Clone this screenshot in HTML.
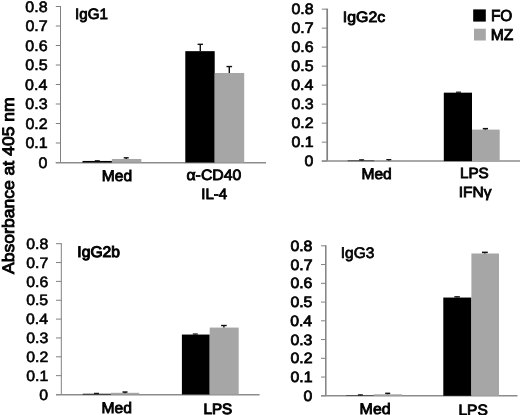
<!DOCTYPE html>
<html><head><meta charset="utf-8"><title>Figure</title>
<style>html,body{margin:0;padding:0;background:#fff;overflow:hidden}svg{display:block}text{font-family:"Liberation Sans",sans-serif;text-rendering:geometricPrecision;fill:#000;stroke:#000;stroke-width:0.85px}</style>
</head><body>
<svg width="520" height="415" viewBox="0 0 520 415">
<rect width="520" height="415" fill="#fff"/>
<text transform="translate(13.80,273.98) rotate(-90) scale(1.058,1)" font-size="16.6" style="stroke-width:0.9px">Absorbance at 405 nm</text>
<g>
<line x1="55.8" y1="162.50" x2="60.5" y2="162.50" stroke="#808080" stroke-width="1"/>
<text transform="translate(38.61,167.73) scale(1.055,1)" font-size="15.2" style="stroke-width:0.6px">0</text>
<line x1="55.8" y1="143.00" x2="60.5" y2="143.00" stroke="#808080" stroke-width="1"/>
<text transform="translate(25.39,148.23) scale(1.055,1)" font-size="15.2" style="stroke-width:0.6px">0.1</text>
<line x1="55.8" y1="123.50" x2="60.5" y2="123.50" stroke="#808080" stroke-width="1"/>
<text transform="translate(25.41,128.73) scale(1.055,1)" font-size="15.2" style="stroke-width:0.6px">0.2</text>
<line x1="55.8" y1="104.00" x2="60.5" y2="104.00" stroke="#808080" stroke-width="1"/>
<text transform="translate(25.31,109.23) scale(1.055,1)" font-size="15.2" style="stroke-width:0.6px">0.3</text>
<line x1="55.8" y1="84.50" x2="60.5" y2="84.50" stroke="#808080" stroke-width="1"/>
<text transform="translate(25.08,89.73) scale(1.055,1)" font-size="15.2" style="stroke-width:0.6px">0.4</text>
<line x1="55.8" y1="65.00" x2="60.5" y2="65.00" stroke="#808080" stroke-width="1"/>
<text transform="translate(25.28,70.23) scale(1.055,1)" font-size="15.2" style="stroke-width:0.6px">0.5</text>
<line x1="55.8" y1="45.50" x2="60.5" y2="45.50" stroke="#808080" stroke-width="1"/>
<text transform="translate(25.31,50.73) scale(1.055,1)" font-size="15.2" style="stroke-width:0.6px">0.6</text>
<line x1="55.8" y1="26.00" x2="60.5" y2="26.00" stroke="#808080" stroke-width="1"/>
<text transform="translate(25.41,31.23) scale(1.055,1)" font-size="15.2" style="stroke-width:0.6px">0.7</text>
<line x1="55.8" y1="6.50" x2="60.5" y2="6.50" stroke="#808080" stroke-width="1"/>
<text transform="translate(25.30,11.73) scale(1.055,1)" font-size="15.2" style="stroke-width:0.6px">0.8</text>
<line x1="60.5" y1="6.00" x2="60.5" y2="162.80" stroke="#808080" stroke-width="1.0"/>
<line x1="55.8" y1="162.80" x2="266" y2="162.80" stroke="#8c8c8c" stroke-width="1.6"/>
<rect x="82.5" y="160.94" width="29.40" height="1.56" fill="#000"/>
<rect x="111.9" y="158.99" width="29.40" height="3.51" fill="#a6a6a6"/>
<rect x="185.3" y="51.16" width="29.40" height="111.34" fill="#000"/>
<rect x="214.7" y="73.00" width="29.50" height="89.50" fill="#a6a6a6"/>
<line x1="94.8" y1="160.75" x2="99.8" y2="160.75" stroke="#111" stroke-width="1.2"/>
<line x1="126.2" y1="157.82" x2="126.2" y2="158.99" stroke="#111" stroke-width="1.4"/>
<line x1="123.7" y1="157.82" x2="128.7" y2="157.82" stroke="#111" stroke-width="1.4"/>
<line x1="200.3" y1="44.33" x2="200.3" y2="51.16" stroke="#111" stroke-width="1.4"/>
<line x1="197.60000000000002" y1="44.33" x2="203.0" y2="44.33" stroke="#111" stroke-width="1.4"/>
<line x1="229.3" y1="66.56" x2="229.3" y2="73.00" stroke="#111" stroke-width="1.4"/>
<line x1="226.5" y1="66.56" x2="232.10000000000002" y2="66.56" stroke="#111" stroke-width="1.4"/>
</g>
<text transform="translate(75.03,18.90) scale(1.008,1)" font-size="15">IgG1</text>
<text transform="translate(101.85,181.00) scale(1.016,1)" font-size="15.3">Med</text>
<text transform="translate(186.46,180.30) scale(1.056,1)" font-size="15.0">α-CD40</text>
<text transform="translate(201.24,198.70) scale(1.001,1)" font-size="15.0">IL-4</text>
<g>
<line x1="321.8" y1="161.15" x2="327.2" y2="161.15" stroke="#808080" stroke-width="1"/>
<text transform="translate(304.61,166.34) scale(1.055,1)" font-size="15.1" style="stroke-width:0.7px">0</text>
<line x1="321.8" y1="142.15" x2="327.2" y2="142.15" stroke="#808080" stroke-width="1"/>
<text transform="translate(291.48,147.34) scale(1.055,1)" font-size="15.1" style="stroke-width:0.7px">0.1</text>
<line x1="321.8" y1="123.15" x2="327.2" y2="123.15" stroke="#808080" stroke-width="1"/>
<text transform="translate(291.51,128.34) scale(1.055,1)" font-size="15.1" style="stroke-width:0.7px">0.2</text>
<line x1="321.8" y1="104.15" x2="327.2" y2="104.15" stroke="#808080" stroke-width="1"/>
<text transform="translate(291.40,109.34) scale(1.055,1)" font-size="15.1" style="stroke-width:0.7px">0.3</text>
<line x1="321.8" y1="85.15" x2="327.2" y2="85.15" stroke="#808080" stroke-width="1"/>
<text transform="translate(291.17,90.34) scale(1.055,1)" font-size="15.1" style="stroke-width:0.7px">0.4</text>
<line x1="321.8" y1="66.15" x2="327.2" y2="66.15" stroke="#808080" stroke-width="1"/>
<text transform="translate(291.37,71.34) scale(1.055,1)" font-size="15.1" style="stroke-width:0.7px">0.5</text>
<line x1="321.8" y1="47.15" x2="327.2" y2="47.15" stroke="#808080" stroke-width="1"/>
<text transform="translate(291.40,52.34) scale(1.055,1)" font-size="15.1" style="stroke-width:0.7px">0.6</text>
<line x1="321.8" y1="28.15" x2="327.2" y2="28.15" stroke="#808080" stroke-width="1"/>
<text transform="translate(291.51,33.34) scale(1.055,1)" font-size="15.1" style="stroke-width:0.7px">0.7</text>
<line x1="321.8" y1="9.15" x2="327.2" y2="9.15" stroke="#808080" stroke-width="1"/>
<text transform="translate(291.40,14.34) scale(1.055,1)" font-size="15.1" style="stroke-width:0.7px">0.8</text>
<line x1="327.2" y1="8.65" x2="327.2" y2="160.95" stroke="#808080" stroke-width="1.7"/>
<line x1="321.8" y1="160.95" x2="520" y2="160.95" stroke="#8c8c8c" stroke-width="1.35"/>
<rect x="347.7" y="160.58" width="26.60" height="0.57" fill="#000"/>
<rect x="374.3" y="160.58" width="27.70" height="0.57" fill="#a6a6a6"/>
<rect x="443.8" y="92.66" width="28.20" height="68.50" fill="#000"/>
<rect x="472" y="129.61" width="27.70" height="31.54" fill="#a6a6a6"/>
<line x1="361.6" y1="159.82" x2="361.6" y2="160.58" stroke="#111" stroke-width="1.4"/>
<line x1="359.1" y1="159.82" x2="364.1" y2="159.82" stroke="#111" stroke-width="1.2"/>
<line x1="388.8" y1="159.63" x2="388.8" y2="160.58" stroke="#111" stroke-width="1.4"/>
<line x1="386.3" y1="159.63" x2="391.3" y2="159.63" stroke="#111" stroke-width="1.2"/>
<line x1="458.5" y1="92.18" x2="458.5" y2="92.66" stroke="#111" stroke-width="1.4"/>
<line x1="456.0" y1="92.18" x2="461.0" y2="92.18" stroke="#111" stroke-width="1.2"/>
<line x1="485.4" y1="128.66" x2="485.4" y2="129.61" stroke="#111" stroke-width="1.4"/>
<line x1="482.79999999999995" y1="128.66" x2="488.0" y2="128.66" stroke="#111" stroke-width="1.5"/>
</g>
<text transform="translate(342.86,22.00) scale(1.060,1)" font-size="15">IgG2c</text>
<text transform="translate(361.45,178.50) scale(1.026,1)" font-size="15.2">Med</text>
<text transform="translate(459.98,178.00) scale(1.029,1)" font-size="14.8">LPS</text>
<text transform="translate(458.79,197.10) scale(1.048,1)" font-size="14.8">IFNγ</text>
<g>
<line x1="56" y1="394.50" x2="61.3" y2="394.50" stroke="#808080" stroke-width="1"/>
<text transform="translate(39.32,399.66) scale(1.055,1)" font-size="15" style="stroke-width:0.6px">0</text>
<line x1="56" y1="375.65" x2="61.3" y2="375.65" stroke="#808080" stroke-width="1"/>
<text transform="translate(26.27,380.81) scale(1.055,1)" font-size="15" style="stroke-width:0.6px">0.1</text>
<line x1="56" y1="356.80" x2="61.3" y2="356.80" stroke="#808080" stroke-width="1"/>
<text transform="translate(26.30,361.96) scale(1.055,1)" font-size="15" style="stroke-width:0.6px">0.2</text>
<line x1="56" y1="337.95" x2="61.3" y2="337.95" stroke="#808080" stroke-width="1"/>
<text transform="translate(26.20,343.11) scale(1.055,1)" font-size="15" style="stroke-width:0.6px">0.3</text>
<line x1="56" y1="319.10" x2="61.3" y2="319.10" stroke="#808080" stroke-width="1"/>
<text transform="translate(25.96,324.26) scale(1.055,1)" font-size="15" style="stroke-width:0.6px">0.4</text>
<line x1="56" y1="300.25" x2="61.3" y2="300.25" stroke="#808080" stroke-width="1"/>
<text transform="translate(26.17,305.41) scale(1.055,1)" font-size="15" style="stroke-width:0.6px">0.5</text>
<line x1="56" y1="281.40" x2="61.3" y2="281.40" stroke="#808080" stroke-width="1"/>
<text transform="translate(26.20,286.56) scale(1.055,1)" font-size="15" style="stroke-width:0.6px">0.6</text>
<line x1="56" y1="262.55" x2="61.3" y2="262.55" stroke="#808080" stroke-width="1"/>
<text transform="translate(26.30,267.71) scale(1.055,1)" font-size="15" style="stroke-width:0.6px">0.7</text>
<line x1="56" y1="243.70" x2="61.3" y2="243.70" stroke="#808080" stroke-width="1"/>
<text transform="translate(26.19,248.86) scale(1.055,1)" font-size="15" style="stroke-width:0.6px">0.8</text>
<line x1="61.3" y1="243.20" x2="61.3" y2="394.80" stroke="#808080" stroke-width="1.0"/>
<line x1="56" y1="394.80" x2="259.6" y2="394.80" stroke="#8c8c8c" stroke-width="1.6"/>
<rect x="82.7" y="393.75" width="28.30" height="0.75" fill="#000"/>
<rect x="111" y="392.80" width="28.20" height="1.70" fill="#a6a6a6"/>
<rect x="181.9" y="334.56" width="27.80" height="59.94" fill="#000"/>
<rect x="209.7" y="327.58" width="29.00" height="66.92" fill="#a6a6a6"/>
<line x1="96.5" y1="393.37" x2="96.5" y2="393.75" stroke="#111" stroke-width="1.4"/>
<line x1="94.0" y1="393.37" x2="99.0" y2="393.37" stroke="#111" stroke-width="1.2"/>
<line x1="125" y1="392.05" x2="125" y2="393.18" stroke="#111" stroke-width="1.4"/>
<line x1="122.5" y1="392.05" x2="127.5" y2="392.05" stroke="#111" stroke-width="1.5"/>
<line x1="195.3" y1="333.99" x2="195.3" y2="334.56" stroke="#111" stroke-width="1.4"/>
<line x1="192.8" y1="333.99" x2="197.8" y2="333.99" stroke="#111" stroke-width="1.2"/>
<line x1="223.9" y1="325.51" x2="223.9" y2="327.58" stroke="#111" stroke-width="1.4"/>
<line x1="221.1" y1="325.51" x2="226.70000000000002" y2="325.51" stroke="#111" stroke-width="1.4"/>
</g>
<text transform="translate(77.36,256.80) scale(1.022,1)" font-size="15.3" style="stroke-width:1.0px">IgG2b</text>
<text transform="translate(101.44,413.40) scale(1.030,1)" font-size="15.2">Med</text>
<text transform="translate(203.45,414.30) scale(1.014,1)" font-size="15.0" style="stroke-width:1.0px">LPS</text>
<g>
<line x1="321" y1="395.80" x2="325.8" y2="395.80" stroke="#808080" stroke-width="1"/>
<text transform="translate(303.53,400.96) scale(1.055,1)" font-size="15" style="stroke-width:0.78px">0</text>
<line x1="321" y1="377.05" x2="325.8" y2="377.05" stroke="#808080" stroke-width="1"/>
<text transform="translate(290.48,382.21) scale(1.055,1)" font-size="15" style="stroke-width:0.78px">0.1</text>
<line x1="321" y1="358.30" x2="325.8" y2="358.30" stroke="#808080" stroke-width="1"/>
<text transform="translate(290.51,363.46) scale(1.055,1)" font-size="15" style="stroke-width:0.78px">0.2</text>
<line x1="321" y1="339.55" x2="325.8" y2="339.55" stroke="#808080" stroke-width="1"/>
<text transform="translate(290.41,344.71) scale(1.055,1)" font-size="15" style="stroke-width:0.78px">0.3</text>
<line x1="321" y1="320.80" x2="325.8" y2="320.80" stroke="#808080" stroke-width="1"/>
<text transform="translate(290.17,325.96) scale(1.055,1)" font-size="15" style="stroke-width:0.78px">0.4</text>
<line x1="321" y1="302.05" x2="325.8" y2="302.05" stroke="#808080" stroke-width="1"/>
<text transform="translate(290.38,307.21) scale(1.055,1)" font-size="15" style="stroke-width:0.78px">0.5</text>
<line x1="321" y1="283.30" x2="325.8" y2="283.30" stroke="#808080" stroke-width="1"/>
<text transform="translate(290.41,288.46) scale(1.055,1)" font-size="15" style="stroke-width:0.78px">0.6</text>
<line x1="321" y1="264.55" x2="325.8" y2="264.55" stroke="#808080" stroke-width="1"/>
<text transform="translate(290.51,269.71) scale(1.055,1)" font-size="15" style="stroke-width:0.78px">0.7</text>
<line x1="321" y1="245.80" x2="325.8" y2="245.80" stroke="#808080" stroke-width="1"/>
<text transform="translate(290.40,250.96) scale(1.055,1)" font-size="15" style="stroke-width:0.78px">0.8</text>
<line x1="325.8" y1="245.30" x2="325.8" y2="395.80" stroke="#808080" stroke-width="1.5"/>
<line x1="321" y1="395.80" x2="517.5" y2="395.80" stroke="#8c8c8c" stroke-width="1.6"/>
<rect x="346" y="395.43" width="27.80" height="0.38" fill="#000"/>
<rect x="373.8" y="394.30" width="28.30" height="1.50" fill="#a6a6a6"/>
<rect x="443.3" y="297.55" width="28.10" height="98.25" fill="#000"/>
<rect x="471.4" y="253.49" width="27.60" height="142.31" fill="#a6a6a6"/>
<line x1="360.4" y1="394.86" x2="360.4" y2="395.43" stroke="#111" stroke-width="1.4"/>
<line x1="357.9" y1="394.86" x2="362.9" y2="394.86" stroke="#111" stroke-width="1.2"/>
<line x1="387.7" y1="393.36" x2="387.7" y2="394.30" stroke="#111" stroke-width="1.4"/>
<line x1="385.2" y1="393.36" x2="390.2" y2="393.36" stroke="#111" stroke-width="1.5"/>
<line x1="457.1" y1="296.80" x2="457.1" y2="297.55" stroke="#111" stroke-width="1.4"/>
<line x1="454.3" y1="296.80" x2="459.90000000000003" y2="296.80" stroke="#111" stroke-width="1.3"/>
<line x1="484.9" y1="252.36" x2="484.9" y2="253.49" stroke="#111" stroke-width="1.4"/>
<line x1="482.0" y1="252.36" x2="487.79999999999995" y2="252.36" stroke="#111" stroke-width="1.5"/>
</g>
<text transform="translate(340.71,258.30) scale(1.017,1)" font-size="15.3" style="stroke-width:0.7px">IgG3</text>
<text transform="translate(359.62,414.20) scale(1.048,1)" font-size="15.2">Med</text>
<text transform="translate(458.45,415.00) scale(1.035,1)" font-size="15.0">LPS</text>
<rect x="473.2" y="9.4" width="12.6" height="12.2" fill="#000"/>
<rect x="474" y="28.7" width="11.8" height="11.8" fill="#a6a6a6"/>
<text transform="translate(490.96,20.90) scale(0.961,1)" font-size="16">FO</text>
<text transform="translate(490.75,40.10) scale(0.987,1)" font-size="15.8">MZ</text>
</svg>
</body></html>
